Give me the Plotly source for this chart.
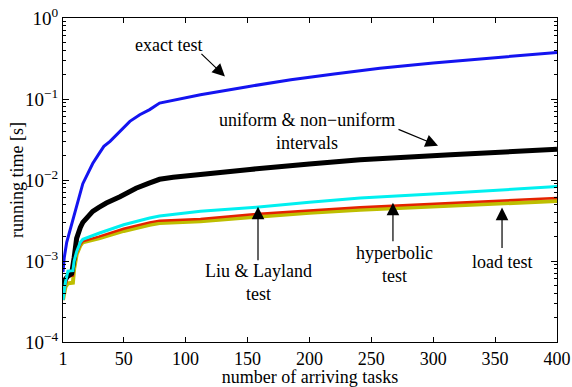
import plotly.graph_objects as go

# number of arriving tasks vs running time [s] for each schedulability test
x_exact = [1, 2, 4, 7, 11, 14, 17, 21, 25, 30, 34, 39, 47, 55, 63, 71, 79, 95, 112,
           150, 185, 220, 257, 300, 338, 370, 400]
t_exact = [7.3e-4, 1.1e-3, 1.7e-3, 2.5e-3, 4e-3, 6e-3, 9e-3, 1.2e-2, 1.6e-2, 0.021,
           0.026, 0.030, 0.040, 0.053, 0.064, 0.074, 0.089, 0.100, 0.113,
           0.142, 0.173, 0.204, 0.24, 0.279, 0.315, 0.347, 0.376]

x_intervals = [1, 3, 5, 8, 10, 12, 15, 17, 21, 25, 30, 36, 47, 60, 70, 79, 90, 112,
               152, 200, 241, 314, 360, 400]
t_intervals = [5e-4, 6e-4, 6.5e-4, 7e-4, 1.1e-3, 1.9e-3, 2.6e-3, 3e-3, 3.5e-3, 4.1e-3,
               4.6e-3, 5.2e-3, 6.2e-3, 7.9e-3, 9.1e-3, 0.0102, 0.0108, 0.0118,
               0.0135, 0.0158, 0.0178, 0.0205, 0.0222, 0.024]

x_bounds = [1, 3, 5, 9, 10, 12, 15, 17, 30, 50, 71, 79, 112, 157, 200, 241, 314, 360, 400]
t_liu = [3.3e-4, 5.5e-4, 7.5e-4, 7.6e-4, 1e-3, 1.3e-3, 1.7e-3, 1.85e-3, 2.2e-3, 2.8e-3,
         3.4e-3, 3.6e-3, 4.1e-3, 4.6e-3, 5.3e-3, 6e-3, 6.9e-3, 7.6e-3, 8.3e-3]
t_hyper = [3.3e-4, 5e-4, 6.5e-4, 6.6e-4, 9e-4, 1.25e-3, 1.6e-3, 1.75e-3, 2e-3, 2.5e-3,
           3e-3, 3.15e-3, 3.3e-3, 3.8e-3, 4.2e-3, 4.6e-3, 5.2e-3, 5.6e-3, 6e-3]
t_load = [3.3e-4, 4.8e-4, 5.3e-4, 5.4e-4, 8e-4, 1.2e-3, 1.55e-3, 1.7e-3, 1.9e-3, 2.35e-3,
          2.8e-3, 2.95e-3, 3.1e-3, 3.55e-3, 3.95e-3, 4.3e-3, 4.85e-3, 5.2e-3, 5.5e-3]

x_ticks = [1, 50, 100, 150, 200, 250, 300, 350, 400]
y_ticks = [1e-4, 1e-3, 1e-2, 1e-1, 1e0]
y_ticktext = ["10<sup>−4</sup>", "10<sup>−3</sup>", "10<sup>−2</sup>",
              "10<sup>−1</sup>", "10<sup>0</sup>"]

FONT = "Liberation Serif, Times New Roman, serif"
FS = 18

fig = go.Figure()
series = [
    (x_bounds, t_load, "rgb(190,190,0)", 4),
    (x_bounds, t_hyper, "rgb(228,35,0)", 2.5),
    (x_intervals, t_intervals, "black", 5),
    (x_bounds, t_liu, "rgb(0,240,240)", 3),
    (x_exact, t_exact, "rgb(20,20,240)", 3),
]
for xs, ys, col, w in series:
    fig.add_trace(go.Scatter(x=xs, y=ys, mode="lines",
                             line=dict(color=col, width=w), showlegend=False))

minor_vals = [m * 10.0 ** e for e in range(-4, 0) for m in range(2, 10)]

axis_common = dict(showline=True, linecolor="black", linewidth=1.2, mirror="ticks",
                   ticks="inside", tickcolor="black", showgrid=False, zeroline=False,
                   automargin=False)

fig.update_xaxes(range=[1, 400], tickvals=x_ticks, ticklen=5,
                 tickfont=dict(family=FONT, size=FS, color="black"),
                 title=dict(text="number of arriving tasks", standoff=0,
                            font=dict(family=FONT, size=FS, color="black")),
                 **axis_common)
fig.update_yaxes(type="log", range=[-4, 0], tickvals=y_ticks, ticktext=y_ticktext,
                 ticklen=6,
                 tickfont=dict(family=FONT, size=19, color="black"),
                 minor=dict(tickvals=minor_vals, ticks="inside", ticklen=3,
                            tickcolor="black", showgrid=False),
                 **axis_common)

PL, PT, PW, PH = 63, 18, 494, 324

# y-axis title placed beside the tick labels
fig.add_annotation(x=(17 - PL) / PW, y=0.5, xref="paper", yref="paper",
                   text="running time [s]", textangle=-90, showarrow=False,
                   xanchor="center", yanchor="middle",
                   font=dict(family=FONT, size=FS, color="black"))

# arrows: tip in data coordinates, tail as pixel offset
arrows = [
    (131.8, -0.721, -25, -24),
    (303.9, -1.577, -41, -17),
    (158.5, -2.33, 0, 55),
    (267.5, -2.28, 0, 40),
    (355.6, -2.34, 0, 42),
]
for ax_x, ax_logy, dx, dy in arrows:
    fig.add_annotation(x=ax_x, y=ax_logy, xref="x", yref="y", text="",
                       showarrow=True, ax=dx, ay=dy, arrowhead=2, arrowsize=2.1,
                       arrowwidth=1.2, arrowcolor="black", standoff=0)

labels = [
    ("exact test", 168, 45),
    ("uniform &amp; non−uniform<br>intervals", 307, 131),
    ("Liu &amp; Layland<br>test", 258, 282),
    ("hyperbolic<br>test", 394, 264),
    ("load test", 502, 262),
]
for txt, px, py in labels:
    fig.add_annotation(x=(px - PL) / PW, y=1 - (py - PT) / PH, xref="paper", yref="paper",
                       text=txt, showarrow=False, xanchor="center", yanchor="middle",
                       align="center",
                       font=dict(family=FONT, size=FS, color="black"))

fig.update_layout(width=572, height=387,
                  margin=dict(l=PL, r=572 - PL - PW, t=PT, b=387 - PT - PH),
                  paper_bgcolor="white", plot_bgcolor="white",
                  font=dict(family=FONT, size=FS, color="black"))

fig.write_html("out.html")
